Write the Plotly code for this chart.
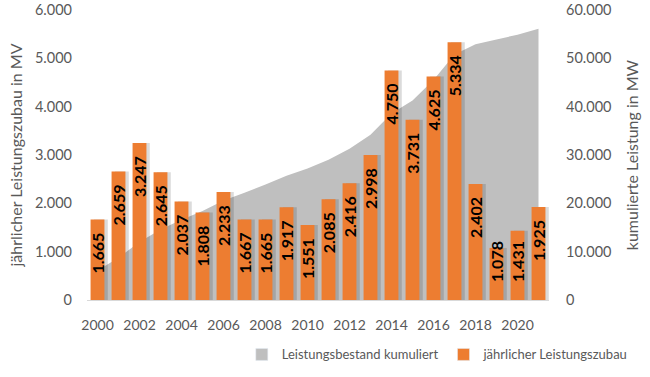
import plotly.graph_objects as go

years = list(range(2000, 2022))
zubau = [1665, 2659, 3247, 2645, 2037, 1808, 2233, 1667, 1665, 1917, 1551,
         2085, 2416, 2998, 4750, 3731, 4625, 5334, 2402, 1078, 1431, 1925]
kumuliert = [6100, 8750, 12000, 14600, 16600, 18400, 20600, 22200, 23900, 25700,
             27200, 29000, 31300, 34200, 38600, 41300, 45500, 50800, 52900,
             53900, 54900, 56100]

font_fam = "Lato, 'Open Sans', sans-serif"
tick_col = "#595959"
gray = "#BFBFBF"
orange = "#ED7D31"

fig = go.Figure()
fig.add_trace(go.Scatter(
    x=years, y=kumuliert, name="Leistungsbestand kumuliert", showlegend=False,
    mode="none", fill="tozeroy", fillcolor=gray, yaxis="y",
))
# soft shadow behind bars
fig.add_trace(go.Bar(
    x=years, y=zubau, showlegend=False, hoverinfo="skip",
    marker=dict(color="rgba(0,0,0,0.14)", line=dict(width=0)),
    width=0.66, offset=-0.17, yaxis="y2",
))
fig.add_trace(go.Bar(
    x=years, y=zubau, name="jährlicher Leistungszubau", showlegend=False,
    marker=dict(color=orange, line=dict(width=0)), width=0.66, offset=-0.33,
    yaxis="y2",
))
# legend-only entries with square swatches
fig.add_trace(go.Bar(x=[None], y=[None], name="Leistungsbestand kumuliert",
                     marker=dict(color=gray), yaxis="y2"))
fig.add_trace(go.Bar(x=[None], y=[None], name="jährlicher Leistungszubau",
                     marker=dict(color=orange), yaxis="y2"))

# value labels: rotated, inside top end of each bar (kept inside plot for short bars)
for yr, v in zip(years, zubau):
    fig.add_annotation(
        x=yr, y=max(v, 1490), xref="x", yref="y2",
        text=f"{v:,}".replace(",", "."), textangle=-90, showarrow=False,
        xanchor="center", yanchor="top", yshift=-11,
        font=dict(family=font_fam, size=16, color="black", weight="bold"),
    )

fig.update_layout(
    width=650, height=377,
    margin=dict(l=87, r=101, t=10, b=77, autoexpand=False),
    paper_bgcolor="white", plot_bgcolor="white",
    separators=",.",
    barmode="overlay",
    font=dict(family=font_fam, color=tick_col, size=14),
    showlegend=True,
    legend=dict(orientation="h", xref="container", yref="container",
                x=0.372, xanchor="left", y=0.02, yanchor="bottom",
                font=dict(size=13, color=tick_col), traceorder="normal"),
    xaxis=dict(range=[1999.5, 2021.5], tickmode="linear", tick0=2000, dtick=2,
               showgrid=False, showline=True, linecolor="#D9D9D9", linewidth=1,
               ticks="", ticklabelstandoff=12, automargin=False,
               tickfont=dict(size=14, color=tick_col)),
    yaxis=dict(side="right", range=[0, 60000], dtick=10000, tickformat=",.0f",
               showgrid=False, zeroline=False, ticks="", ticklabelstandoff=16,
               automargin=False, ticklabeloverflow="allow",
               title=dict(text="kumulierte Leistung in MW", standoff=16,
                          font=dict(size=16, color=tick_col)),
               tickfont=dict(size=14.5, color=tick_col)),
    yaxis2=dict(side="left", overlaying="y", range=[0, 6000], dtick=1000,
                tickformat=",.0f", showgrid=False, zeroline=False, ticks="",
                ticklabelstandoff=14, automargin=False, ticklabeloverflow="allow",
                title=dict(text="jährlicher Leistungszubau in MV", standoff=8,
                           font=dict(size=16, color=tick_col)),
                tickfont=dict(size=14.5, color=tick_col)),
)

fig.write_html("out.html", config={"displayModeBar": False},
               post_script="document.body.style.margin='0';")
